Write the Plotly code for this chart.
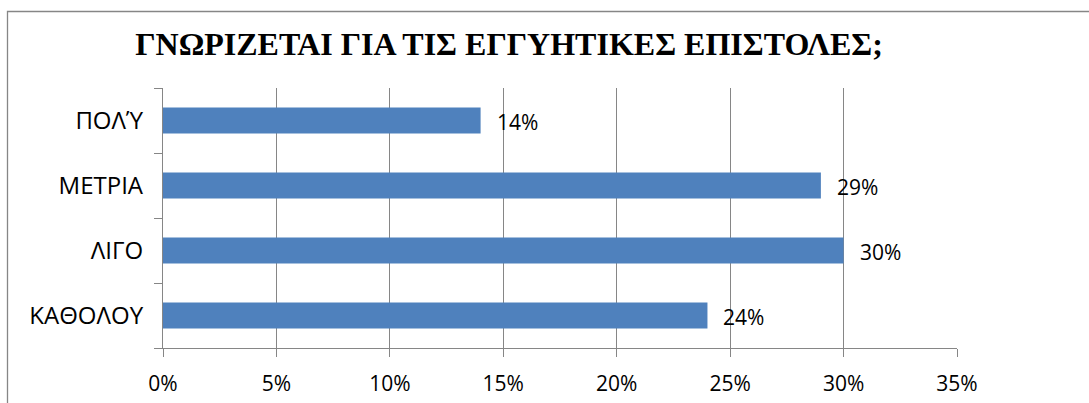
import plotly.graph_objects as go

# Survey answers, bottom to top as they appear on the axis
categories = ["ΚΑΘΟΛΟΥ", "ΛΙΓΟ", "ΜΕΤΡΙΑ", "ΠΟΛΎ"]
shares = [0.24, 0.30, 0.29, 0.14]
tick_values = [0, 0.05, 0.10, 0.15, 0.20, 0.25, 0.30, 0.35]
tick_labels = ["0%", "5%", "10%", "15%", "20%", "25%", "30%", "35%"]
title_text = "ΓΝΩΡΙΖΕΤΑΙ ΓΙΑ ΤΙΣ ΕΓΓΥΗΤΙΚΕΣ ΕΠΙΣΤΟΛΕΣ;"

W, H = 1089, 403
ML, MR, MT, MB = 163, 132, 88, 55
PW, PH = W - ML - MR, H - MT - MB

GRAY = "#868686"
BLUE = "#4F81BD"
NUM_FONT = dict(family="Open Sans", size=21, color="#000000")
CAT_FONT = dict(family="Open Sans", size=24, color="#000000")

fig = go.Figure(
    go.Bar(
        x=shares,
        y=categories,
        orientation="h",
        marker=dict(color=BLUE, line=dict(width=0)),
        hoverinfo="skip",
    )
)

# Value labels just to the right of each bar end
for cat, val in zip(categories, shares):
    fig.add_annotation(
        x=val, y=cat, xref="x", yref="y",
        text=f"{round(val * 100)}%",
        showarrow=False, xanchor="left", yanchor="middle",
        xshift=14, yshift=-1, font=NUM_FONT,
    )

# Chart frame (left and top edges visible, the rest runs off the page)
def px_to_paper_x(px):
    return (px - ML) / PW

def px_to_paper_y(py):
    return (H - MB - py) / PH

fig.add_shape(
    type="rect", xref="paper", yref="paper",
    x0=px_to_paper_x(7.5), x1=px_to_paper_x(W + 20),
    y0=px_to_paper_y(H + 20), y1=px_to_paper_y(11.5),
    line=dict(color=GRAY, width=1.3), fillcolor="rgba(0,0,0,0)", layer="below",
)

fig.update_layout(
    width=W, height=H,
    margin=dict(l=ML, r=MR, t=MT, b=MB, pad=0, autoexpand=False),
    paper_bgcolor="white", plot_bgcolor="white",
    bargap=0.6,
    showlegend=False,
    title=dict(
        text=f"<b>{title_text}</b>",
        font=dict(family="Liberation Serif", size=32, color="#000000"),
        x=509 / W, xanchor="center", xref="container",
        y=1 - 44 / H, yanchor="middle", yref="container",
    ),
    xaxis=dict(
        range=[0, 0.35],
        tickvals=tick_values, ticktext=tick_labels,
        showgrid=True, gridcolor=GRAY, gridwidth=1.3,
        showline=True, linecolor=GRAY, linewidth=1.3,
        ticks="outside", ticklen=8, tickcolor=GRAY, tickwidth=1.3,
        tickfont=NUM_FONT, ticklabelstandoff=9,
        zeroline=False, fixedrange=True, automargin=False,
    ),
    yaxis=dict(
        categoryorder="array", categoryarray=categories,
        showgrid=False,
        showline=True, linecolor=GRAY, linewidth=1.3,
        ticks="outside", tickson="boundaries", ticklen=8,
        tickcolor=GRAY, tickwidth=1.3,
        tickfont=CAT_FONT, ticklabelstandoff=14,
        fixedrange=True, automargin=False,
    ),
)

fig.write_html("out.html")
